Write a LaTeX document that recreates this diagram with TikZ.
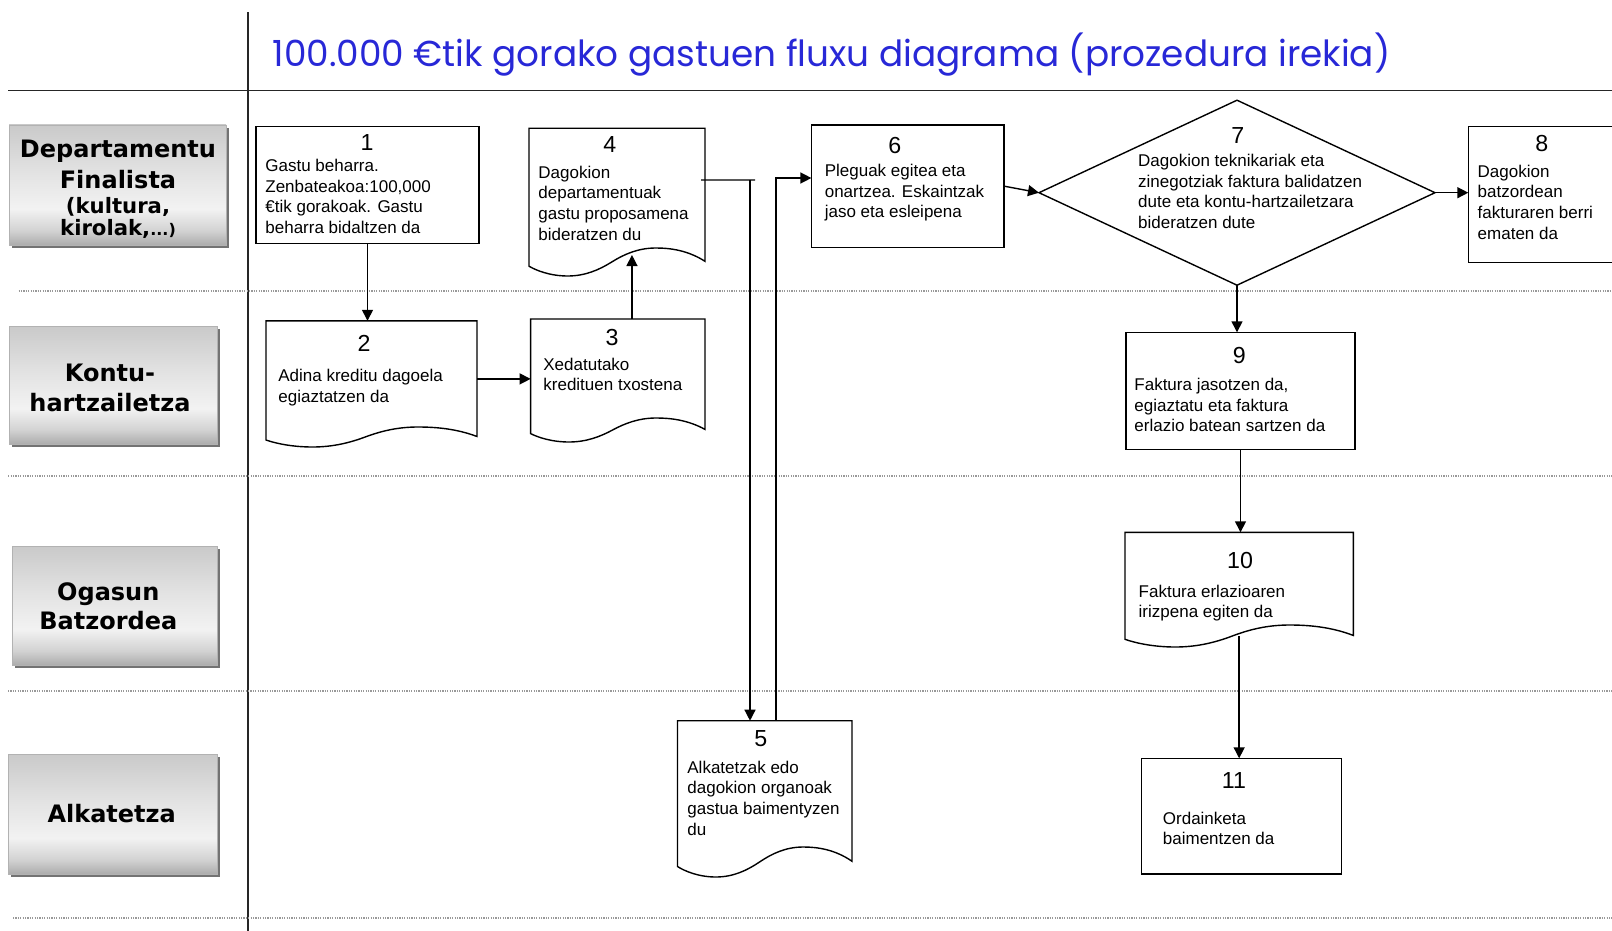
\documentclass[tikz,border=0pt]{standalone}
\usepackage{fontspec}
\usepackage{graphicx}
\usetikzlibrary{arrows.meta,calc,fit,shapes.geometric}
\newfontfamily\arialf{Liberation Sans}
\newfontfamily\verdf{DejaVu Sans}
\newfontfamily\titlef{Poppins}
\newcommand\bodyfont{\arialf\fontsize{8.5}{10.3}\selectfont}
\newcommand\numfont{\arialf\fontsize{11.6}{13}\selectfont}
\newcommand\lanefont{\verdf\bfseries\fontsize{12}{14.7}\selectfont}
\newcommand\lanefontsm{\verdf\bfseries\fontsize{10.6}{12}\selectfont}
\newcommand\titlefont{\titlef\fontsize{18}{20}\selectfont}
\newcommand\tleft[1]{\begin{tabular}[t]{@{}l@{}}#1\end{tabular}}
\newcommand\tcent[1]{\begin{tabular}[t]{@{}c@{}}#1\end{tabular}}
\definecolor{titleblue}{RGB}{40,40,215}
\pgfdeclareverticalshading{lanesh}{100bp}{color(0bp)=(gray!65); color(25bp)=(gray!65); color(31bp)=(gray!35); color(40bp)=(gray!10); color(55bp)=(gray!22); color(75bp)=(gray!42); color(100bp)=(gray!42)}
\tikzset{
  boxline/.style={draw=black, line width=0.7pt, fill=white},
  arr/.style={draw=black, line width=0.7pt, -{Triangle[length=5.5pt,width=5.5pt]}},
  plainline/.style={draw=black, line width=0.7pt},
  lanesep/.style={draw=gray!80, line width=0.6pt, dash pattern=on 0.6pt off 0.6pt},
  frameline/.style={draw=black!85, line width=0.8pt},
  lanebox/.style={inner sep=0, outer sep=0, shading=lanesh, draw=gray!60, line width=0.3pt,
    preaction={fill=black!55, transform canvas={shift={(1.5pt,-1.5pt)}}}},
  numtxt/.style={inner sep=0, anchor=base, font=\numfont},
  bodytxt/.style={inner sep=0, anchor=base west, font=\bodyfont},
  lanetxt/.style={inner sep=0, anchor=base, font=\lanefont},
  fitbox/.style={inner sep=0, outer sep=0},
}
\newcommand\docwave[2]{%
  \draw[boxline] (#1.north west) -- (#1.north east) -- ($(#1.south east)+(0,-0.05*#2)$)
   .. controls ($(#1.south west)!0.9!(#1.south east)+(0,-0.85*#2)$) and ($(#1.south west)!0.8!(#1.south east)+(0,-#2)$) .. ($(#1.south west)!0.72!(#1.south east)+(0,-#2)$)
   .. controls ($(#1.south west)!0.62!(#1.south east)+(0,-#2)$) and ($(#1.south west)!0.54!(#1.south east)+(0,-0.55*#2)$) .. ($(#1.south west)!0.47!(#1.south east)$)
   .. controls ($(#1.south west)!0.40!(#1.south east)+(0,0.55*#2)$) and ($(#1.south west)!0.32!(#1.south east)+(0,#2)$) .. ($(#1.south west)!0.22!(#1.south east)+(0,#2)$)
   .. controls ($(#1.south west)!0.12!(#1.south east)+(0,#2)$) and ($(#1.south west)!0.04!(#1.south east)+(0,0.6*#2)$) .. ($(#1.south west)+(0,0.3*#2)$) -- cycle;}
\begin{document}
\begin{tikzpicture}[x=0.5pt,y=-0.5pt]
\useasboundingbox (0,0) rectangle (1612,931);
\clip (0,0) rectangle (1612,931);
\fill[white] (0,0) rectangle (1612,931);

% frame
\coordinate (vt) at (247.8,12.3);
\coordinate (vb) at (247.8,931);
\draw[frameline] (vt) -- (vb);
\coordinate (hl) at (8.2,90.5);
\coordinate (hr) at (1612,90.5);
\draw[frameline] (hl) -- (hr);

% lane separators
\draw[lanesep] (18.5,290.9) -- (1612,290.9);
\draw[lanesep] (8.2,476) -- (1612,476);
\draw[lanesep] (8,690.9) -- (1612,690.9);
\draw[lanesep] (13,918) -- (1612,918);

% title
\node[inner sep=0, anchor=base west, text=titleblue] (title) at (272.4,66.7)
  {\resizebox{558.8pt}{\height}{\titlefont 100.000 €tik gorako gastuen fluxu diagrama (prozedura irekia)}};

% lane label boxes
\node[lanebox, fit={(9,125) (226,245)}] (lane1) {};
\node[lanebox, fit={(9,326) (217,444)}] (lane2) {};
\node[lanebox, fit={(12,546) (217,665)}] (lane3) {};
\node[lanebox, fit={(8,754) (217,874)}] (lane4) {};
\node[lanetxt] (lane1a) at (118,157.7) {Departamentu};
\node[lanetxt] (lane1b) at (118,188.3) {Finalista};
\node[lanetxt, font=\lanefontsm] (lane1c) at (118,213.3) {(kultura,};
\node[lanetxt, font=\lanefontsm] (lane1d) at (118,235) {kirolak,{\fontsize{8}{9}\selectfont...)}};
\node[lanetxt] (lane2t) at (110,381.7) {\tcent{Kontu-\\hartzailetza}};
\node[lanetxt] (lane3t) at (108.3,600) {\tcent{Ogasun\\Batzordea}};
\node[lanetxt] (lane4t) at (111.7,822.7) {Alkatetza};

% process boxes
\node[boxline, fitbox, fit={(256,126.5) (479,243.6)}] (n1) {};
\node[fitbox, fit={(266,320.8) (477,437)}] (n2) {};
\docwave{n2}{10}
\node[fitbox, fit={(530.6,319) (705,430)}] (n3) {};
\docwave{n3}{12}
\node[fitbox, fit={(529,128.3) (705,262)}] (n4) {};
\docwave{n4}{14}
\node[fitbox, fit={(677.5,720.7) (852,862)}] (n5) {};
\docwave{n5}{15}
\node[boxline, fitbox, fit={(811.4,125) (1004,247.3)}] (n6) {};
\node[boxline, diamond, inner sep=0, outer sep=0, minimum width=198pt, minimum height=92.5pt] (n7) at (1237,192.7) {};
\node[boxline, fitbox, fit={(1468.3,126.7) (1625,262.7)}] (n8) {};
\node[boxline, fitbox, fit={(1126,332.3) (1355,449.3)}] (n9) {};
\node[fitbox, fit={(1125,532.3) (1353.3,636)}] (n10) {};
\docwave{n10}{11}
\node[boxline, fitbox, fit={(1141.5,758.3) (1341.6,874)}] (n11) {};

% numbers
\node[numtxt] (t1n) at (367,150) {1};
\node[numtxt] (t2n) at (364,351.7) {2};
\node[numtxt] (t3n) at (612,345) {3};
\node[numtxt] (t4n) at (609.7,153) {4};
\node[numtxt] (t5n) at (760.7,746.7) {5};
\node[numtxt] (t6n) at (894.8,154) {6};
\node[numtxt] (t7n) at (1237.8,143.3) {7};
\node[numtxt] (t8n) at (1541.7,151.7) {8};
\node[numtxt] (t9n) at (1239.3,363.3) {9};
\node[numtxt] (t10n) at (1240,568.3) {10};
\node[numtxt] (t11n) at (1234,788.3) {11};

% texts
\node[bodytxt] (t1) at (265,171.7) {\tleft{Gastu beharra.\\Zenbateakoa:100,000\\€tik gorakoak. Gastu\\beharra bidaltzen da}};
\node[bodytxt] (t2) at (278,381.7) {\tleft{Adina kreditu dagoela\\egiaztatzen da}};
\node[bodytxt] (t3) at (543,370) {\tleft{Xedatutako\\kredituen txostena}};
\node[bodytxt] (t4) at (538,178.3) {\tleft{Dagokion\\departamentuak\\gastu proposamena\\bideratzen du}};
\node[bodytxt] (t5) at (687,773.3) {\tleft{Alkatetzak edo\\dagokion organoak\\gastua baimentyzen\\du}};
\node[bodytxt] (t6) at (824.4,176.7) {\tleft{Pleguak egitea eta\\onartzea. Eskaintzak\\jaso eta esleipena}};
\node[bodytxt] (t7) at (1137.8,166.7) {\tleft{Dagokion teknikariak eta\\zinegotziak faktura balidatzen\\dute eta kontu-hartzailetzara\\bideratzen dute}};
\node[bodytxt] (t8) at (1477.3,177.3) {\tleft{Dagokion\\batzordean\\fakturaren berri\\ematen da}};
\node[bodytxt] (t9) at (1134,390.7) {\tleft{Faktura jasotzen da,\\egiaztatu eta faktura\\erlazio batean sartzen da}};
\node[bodytxt] (t10) at (1138.3,597.3) {\tleft{Faktura erlazioaren\\irizpena egiten da}};
\node[bodytxt] (t11) at (1162.5,824) {\tleft{Ordainketa\\baimentzen da}};

% connectors
\draw[arr] (n1.south) -- (n1.south |- n2.north);
\draw[arr] (n2.east) -- (n2.east -| n3.west);
\coordinate (n4w) at ($(n4.south west)!0.585!(n4.south east)+(0,-7)$);
\draw[arr] (n4w |- n3.north) -- (n4w);
\coordinate (j45s) at ($(n4.north east)+(-4,51.7)$);
\coordinate (j45) at (750,180);
\coordinate (j45e) at (755,180);
\draw[plainline] (j45s) -- (j45e);
\draw[arr] (j45) -- (j45 |- n5.north);
\coordinate (j56) at (776,178);
\draw[arr] (j56 |- n5.north) -- (j56) -- (j56 -| n6.west);
\draw[arr] (n6.east) -- (n7.west);
\draw[arr] (n7.east) -- (n7.east -| n8.west);
\draw[arr] (n7.south) -- (n7.south |- n9.north);
\draw[arr] (n9.south) -- (n9.south |- n10.north);
\draw[arr] (n10.south) -- (n10.south |- n11.north);
\end{tikzpicture}
\end{document}
